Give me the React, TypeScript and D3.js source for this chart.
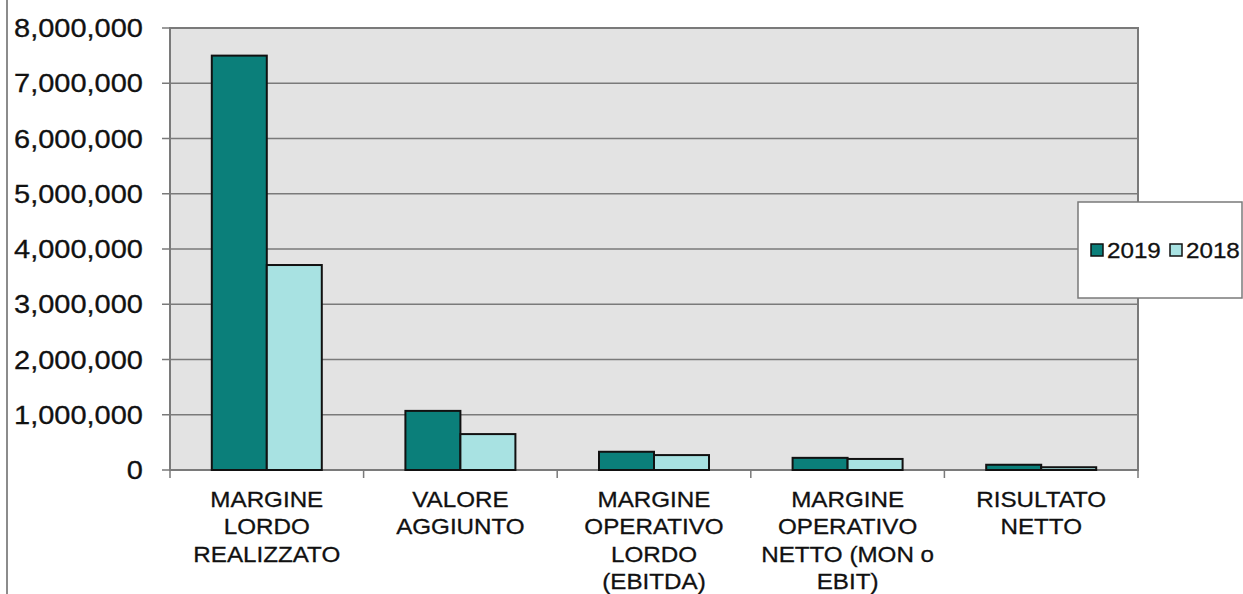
import React from 'react'
import * as d3 from 'd3'

const categories = [
  ['MARGINE', 'LORDO', 'REALIZZATO'],
  ['VALORE', 'AGGIUNTO'],
  ['MARGINE', 'OPERATIVO', 'LORDO', '(EBITDA)'],
  ['MARGINE', 'OPERATIVO', 'NETTO (MON o', 'EBIT)'],
  ['RISULTATO', 'NETTO'],
]
const seriesNames = ['2019', '2018']
const values2019 = [7500000, 1070000, 330000, 220000, 95000]
const values2018 = [3710000, 650000, 270000, 200000, 50000]
const yTicks = [0, 1000000, 2000000, 3000000, 4000000, 5000000, 6000000, 7000000, 8000000]

const colors = ['#0b7f7a', '#a8e2e2']

const W = 1243
const H = 594
const plot = { left: 170, right: 1138, top: 28, bottom: 470 }

export default function App() {
  const x = d3
    .scaleBand<number>()
    .domain(categories.map((_, i) => i))
    .range([plot.left, plot.right])
  const inner = d3
    .scaleBand<string>()
    .domain(seriesNames)
    .range([0, x.bandwidth()])
    .paddingInner(0)
    .paddingOuter(0.76)
  const y = d3.scaleLinear().domain([0, 8000000]).range([plot.bottom, plot.top])
  const fmt = d3.format(',')
  const series = [values2019, values2018]
  const font = 'Liberation Sans, Arial, sans-serif'

  return (
    <div style={{ position: 'fixed', left: 0, top: 0 }}>
      <svg width={W} height={H} style={{ display: 'block', background: '#fff' }}>
        <line x1={7} x2={7} y1={0} y2={H} stroke="#8c8c8c" strokeWidth={2} />
        <rect
          x={plot.left}
          y={plot.top}
          width={plot.right - plot.left}
          height={plot.bottom - plot.top}
          fill="#e3e3e3"
        />
        {yTicks.map((t) => (
          <g key={t}>
            <line x1={plot.left - 8} x2={plot.right} y1={y(t)} y2={y(t)} stroke="#7a7a7a" strokeWidth={1.5} />
            <text
              transform={`translate(143,${y(t)}) scale(1.16,1)`}
              dy="0.36em"
              textAnchor="end"
              fontFamily={font}
              fontSize={25}
              fill="#111"
              stroke="#111"
              strokeWidth={0.3}
            >
              {fmt(t)}
            </text>
          </g>
        ))}
        <rect
          x={plot.left}
          y={plot.top}
          width={plot.right - plot.left}
          height={plot.bottom - plot.top}
          fill="none"
          stroke="#7a7a7a"
          strokeWidth={2}
        />
        {categories.map((_, i) => (
          <line
            key={'t' + i}
            x1={x(i)!}
            x2={x(i)!}
            y1={plot.bottom}
            y2={plot.bottom + 8}
            stroke="#7a7a7a"
            strokeWidth={1.5}
          />
        ))}
        <line x1={plot.right} x2={plot.right} y1={plot.bottom} y2={plot.bottom + 8} stroke="#7a7a7a" strokeWidth={1.5} />
        {series.map((vals, s) =>
          vals.map((v, i) => (
            <rect
              key={s + '-' + i}
              x={x(i)! + inner(seriesNames[s])!}
              y={y(v)}
              width={inner.bandwidth()}
              height={y(0) - y(v)}
              fill={colors[s]}
              stroke="#111"
              strokeWidth={2}
            />
          ))
        )}
        {categories.map((lines, i) => (
          <text
            key={'c' + i}
            transform={`translate(${x(i)! + x.bandwidth() / 2},507) scale(1.1,1)`}
            textAnchor="middle"
            fontFamily={font}
            fontSize={22}
            fill="#111"
            stroke="#111"
            strokeWidth={0.3}
          >
            {lines.map((l, j) => (
              <tspan key={j} x={0} dy={j === 0 ? 0 : 27.3}>
                {l}
              </tspan>
            ))}
          </text>
        ))}
        <g>
          <rect x={1078} y={202} width={164} height={96} fill="#fff" stroke="#7a7a7a" strokeWidth={1.5} />
          {seriesNames.map((n, s) => (
            <g key={n} transform={`translate(${1091 + s * 79},250)`}>
              <rect x={0} y={-6} width={12} height={12} fill={colors[s]} stroke="#111" strokeWidth={1.5} />
              <text
                transform="translate(16,0) scale(1.1,1)"
                dy="0.36em"
                fontFamily={font}
                fontSize={22}
                fill="#111"
                stroke="#111"
                strokeWidth={0.3}
              >
                {n}
              </text>
            </g>
          ))}
        </g>
      </svg>
    </div>
  )
}
